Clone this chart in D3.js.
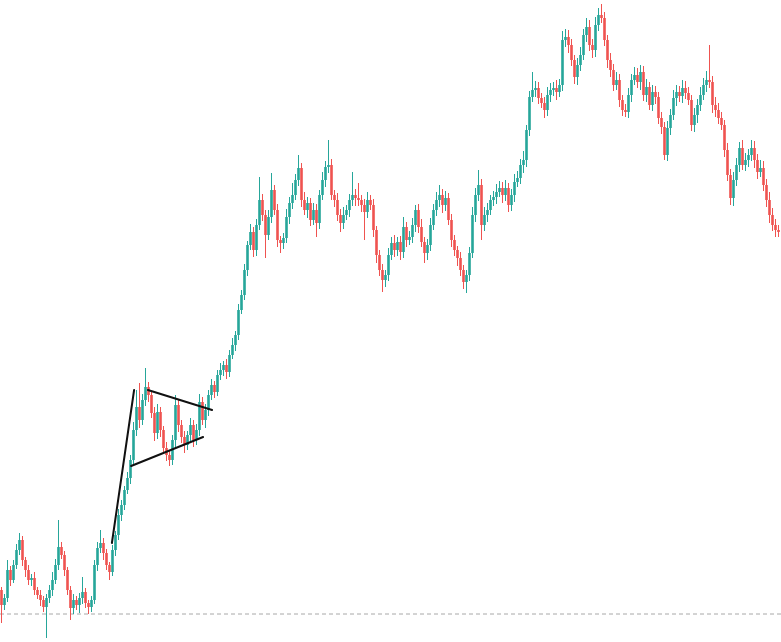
<!DOCTYPE html>
<html>
<head>
<meta charset="utf-8">
<script src="https://cdn.jsdelivr.net/npm/d3@7"></script>
<style>
  html, body { margin: 0; padding: 0; background: #ffffff; }
  svg { display: block; }
</style>
</head>
<body>
<svg id="chart" width="781" height="642"></svg>
<script>
// Close prices, one per candle (open = previous close)
const firstOpen = 52;
const closes = [
  37,44,72,62,77,92,102,82,72,62,
  64,52,47,42,35,44,52,62,77,95,
  87,72,52,34,42,37,44,50,39,35,
  42,77,94,99,89,77,70,92,107,127,
  137,152,164,182,212,235,222,242,255,247,
  229,209,230,212,194,187,182,202,237,217,
  205,197,207,217,202,212,240,222,232,247,
  257,250,267,272,277,270,287,297,307,332,
  347,372,397,410,392,417,442,427,407,425,
  452,432,402,399,404,425,439,447,462,474,
  442,432,439,422,432,419,447,462,475,477,
  447,442,427,419,427,432,442,447,444,442,
  437,430,442,437,412,387,372,362,367,387,
  399,392,400,390,415,402,405,417,432,415,
  400,389,397,417,432,442,447,437,444,422,
  402,392,384,372,360,367,389,427,447,457,
  417,427,432,442,445,450,454,447,454,437,
  447,460,464,477,482,512,545,552,554,544,
  539,532,547,552,554,550,557,602,605,597,
  582,565,577,587,607,615,597,592,617,627,
  624,602,582,572,557,562,542,532,530,547,
  562,567,560,570,547,555,537,550,545,524,
  515,487,514,527,544,550,546,554,549,542,
  517,527,537,547,557,562,560,537,532,524,
  517,492,467,444,462,477,494,477,482,487,
  494,482,470,474,457,442,427,417,412,410
];
// Upper wick lengths above the body, per candle
const upperWicks = [
  3,4,10,4,5,6,7,4,3,5, 4,6,3,5,4,4,5,8,6,27,
  5,4,3,4,6,4,5,15,4,3, 4,5,6,13,5,4,3,5,4,6,
  5,4,6,5,8,17,24,6,19,5, 4,6,8,5,4,6,4,5,10,6,
  5,6,4,7,5,6,8,5,6,5, 6,4,5,7,4,6,5,7,4,6,
  5,6,4,8,5,6,23,6,5,7, 17,5,6,4,5,8,6,12,6,13,
  5,8,6,5,7,6,5,8,6,25, 6,5,7,6,8,5,6,23,6,15,
  5,6,8,5,6,4,5,6,5,7, 6,8,5,6,10,5,6,7,5,6,
  8,5,6,7,6,8,10,6,7,5, 6,5,4,6,5,5,6,8,7,15,
  6,8,7,5,6,8,7,6,8,5, 6,8,7,6,9,5,6,18,7,6,
  5,6,8,7,6,8,6,9,8,7, 6,5,7,8,6,9,7,6,8,7,
  11,6,5,7,6,8,6,5,6,7, 6,8,7,7,6,8,5,7,6,5,
  6,5,7,6,8,7,6,8,7,6, 5,7,6,8,7,9,35,6,8,7,
  6,5,7,6,8,7,6,8,7,6, 8,7,6,8,7,6,8,7,6,5
];
// Lower wick lengths below the body, per candle
const lowerWicks = [
  18,5,4,6,3,4,5,6,7,5, 6,5,4,6,5,31,5,6,4,5,
  4,6,5,12,6,5,8,6,5,7, 5,4,6,5,7,5,8,4,6,5,
  6,5,4,6,5,6,8,5,6,7, 5,8,6,7,5,6,6,5,8,7,
  6,8,5,6,7,5,6,5,8,6, 5,6,4,5,6,7,5,4,6,5,
  4,5,6,5,7,6,5,6,23,5, 6,5,7,10,6,5,7,6,5,6,
  7,5,8,6,5,14,6,5,7,6, 5,7,6,9,6,5,7,6,8,6,
  7,28,6,5,7,8,6,12,7,6, 5,7,6,8,6,7,5,6,7,6,
  5,10,7,6,5,6,7,8,6,5, 7,6,8,6,7,11,6,5,7,6,
  15,6,7,5,6,7,5,8,6,7, 6,7,5,6,8,7,6,5,7,6,
  5,8,6,7,6,8,5,6,7,8, 6,7,8,6,5,7,6,8,7,6,
  5,6,8,7,6,5,7,6,5,6, 7,5,6,8,6,7,5,6,7,6,
  7,5,6,7,5,8,6,7,6,5, 6,7,8,6,5,7,6,8,7,6,
  5,7,6,7,8,6,7,5,6,7, 6,8,7,5,6,7,8,6,7,5
];
// Drawn pattern lines: [candle index, price] -> [candle index, price]
const patternLines = [
  [36.8, 99, 44.2, 252],   // flag pole
  [48.8, 252, 70.2, 232],  // pennant upper
  [43.2, 176, 67.2, 205]   // pennant lower
];
const priceLine = 28;

const W = 781, H = 642;
const n = closes.length;
const candles = closes.map((c, i) => {
  const o = i === 0 ? firstOpen : closes[i - 1];
  const top = Math.max(o, c), bot = Math.min(o, c);
  return { i, o, c, h: top + upperWicks[i], l: bot - lowerWicks[i] };
});

const x = d3.scaleLinear().domain([-0.5, n - 0.5]).range([0, 3 * n]);
const y = d3.scaleLinear().domain([0, 642]).range([H, 0]);

const svg = d3.select('#chart');
svg.append('rect').attr('width', W).attr('height', H).attr('fill', '#fff');

svg.append('line')
  .attr('x1', 0).attr('x2', W)
  .attr('y1', y(priceLine)).attr('y2', y(priceLine))
  .attr('stroke', '#a8a8a8').attr('stroke-width', 1)
  .attr('stroke-dasharray', '4,3');

const up = '#26a69a', down = '#ef5350';
const g = svg.append('g');
g.selectAll('line.wick').data(candles).join('line')
  .attr('class', 'wick')
  .attr('x1', d => x(d.i)).attr('x2', d => x(d.i))
  .attr('y1', d => y(d.h)).attr('y2', d => y(d.l))
  .attr('stroke', d => d.c >= d.o ? up : down)
  .attr('stroke-width', 1);
g.selectAll('rect.body').data(candles).join('rect')
  .attr('class', 'body')
  .attr('x', d => x(d.i) - 1.3).attr('width', 2.6)
  .attr('y', d => y(Math.max(d.o, d.c)))
  .attr('height', d => Math.max(1, Math.abs(y(d.o) - y(d.c))))
  .attr('fill', d => d.c >= d.o ? up : down);

svg.selectAll('line.pattern').data(patternLines).join('line')
  .attr('class', 'pattern')
  .attr('x1', d => x(d[0])).attr('y1', d => y(d[1]))
  .attr('x2', d => x(d[2])).attr('y2', d => y(d[3]))
  .attr('stroke', '#111').attr('stroke-width', 2)
  .attr('stroke-linecap', 'round');
</script>
</body>
</html>
